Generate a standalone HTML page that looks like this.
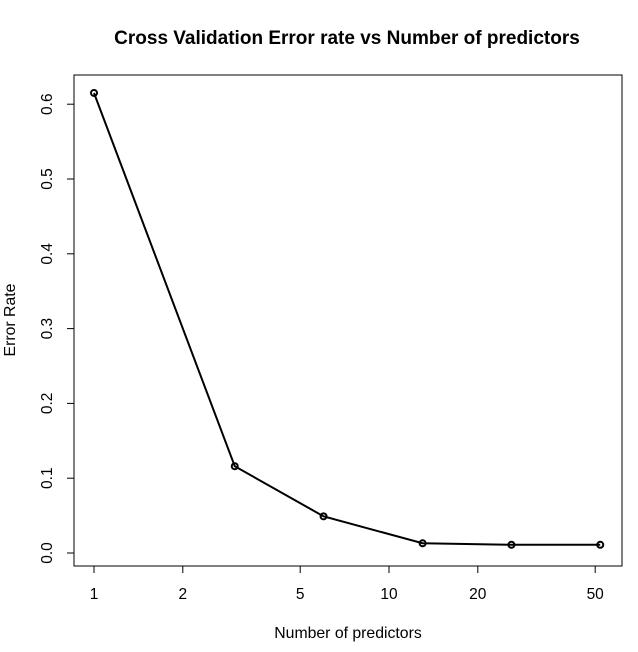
<!DOCTYPE html>
<html><head><meta charset="utf-8"><style>body{margin:0;background:#fff}svg text{font-family:"Liberation Sans",sans-serif}</style></head>
<body>
<svg id="chart" width="638" height="647" xmlns="http://www.w3.org/2000/svg">
<text x="347" y="44" text-anchor="middle" font-size="19" font-weight="bold">Cross Validation Error rate vs Number of predictors</text>
<rect x="74" y="75" width="548" height="491" fill="none" stroke="#000" stroke-width="1"/>
<text x="348" y="638" text-anchor="middle" font-size="15.8">Number of predictors</text>
<text transform="translate(15,320) rotate(-90)" text-anchor="middle" font-size="15.8">Error Rate</text>
<g id="axes"></g><g id="marks"></g>
</svg>
<script>
const xValues=[1,3,6,13,26,52];
const errorRates=[0.615,0.116,0.049,0.013,0.011,0.011];
const xTicks=[1,2,5,10,20,50];
const yTicks=[0,0.1,0.2,0.3,0.4,0.5,0.6];
const yTickLabels=["0.0","0.1","0.2","0.3","0.4","0.5","0.6"];
const NS="http://www.w3.org/2000/svg";
function xs(v){return 94+295*Math.log10(v);}
function ys(v){return 553-748*v;}
const ax=document.getElementById('axes'),mk=document.getElementById('marks');
function mkEl(t,a,p){const e=document.createElementNS(NS,t);for(const k in a)e.setAttribute(k,a[k]);p.appendChild(e);return e;}
mkEl('line',{x1:xs(1),x2:xs(50),y1:566,y2:566,stroke:'#000'},ax);
xTicks.forEach(t=>{
 const l=mkEl('line',{x1:xs(t),x2:xs(t),y1:566,y2:573,stroke:'#000'},ax);
 
 
 const tx=mkEl('text',{x:xs(t),y:599,'text-anchor':'middle','font-size':15.5},ax);
 tx.textContent=t;
 
 
});
mkEl('line',{x1:74,x2:74,y1:ys(0),y2:ys(0.6),stroke:'#000'},ax);
yTicks.forEach((t,i)=>{
 const l=mkEl('line',{x1:67,x2:74,y1:ys(t),y2:ys(t),stroke:'#000'},ax);
 
 
 const tx=mkEl('text',{transform:`translate(52,${ys(t)}) rotate(-90)`,'text-anchor':'middle','font-size':15.5},ax);
 tx.textContent=yTickLabels[i];
 
 
});
const pl=mkEl('polyline',{points:xValues.map((x,i)=>xs(x)+','+ys(errorRates[i])).join(' '),fill:'none',stroke:'#000','stroke-width':2},mk);


xValues.forEach((x,i)=>{
 const c=mkEl('circle',{cx:xs(x),cy:ys(errorRates[i]),r:3,fill:'none',stroke:'#000','stroke-width':2},mk);
 
 
});
</script>
</body></html>
